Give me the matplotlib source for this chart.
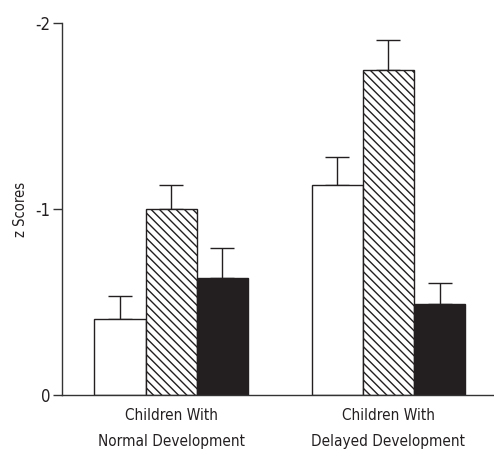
import matplotlib
matplotlib.use("Agg")
import matplotlib.pyplot as plt
import numpy as np

plt.rcParams['font.family'] = ['DejaVu Sans']
plt.rcParams['font.stretch'] = 'condensed'
plt.rcParams['hatch.linewidth'] = 1.0

groups = ["Children With\nNormal Development", "Children With\nDelayed Development"]
series_a = [-0.41, -1.13]   # open bars
series_b = [-1.00, -1.75]   # hatched bars
series_c = [-0.63, -0.49]   # solid bars
err_a = [0.12, 0.15]
err_b = [0.13, 0.16]
err_c = [0.16, 0.11]
yticks = [0, -1, -2]

fig = plt.figure(figsize=(4.94, 4.53), dpi=100)
ax = fig.add_axes([0.1255, 0.128, 0.872, 0.821])

x = np.arange(len(groups))
w = 0.235
styles = [
    dict(facecolor='white', hatch=None),
    dict(facecolor='white', hatch='\\\\\\\\'),
    dict(facecolor='#231f20', hatch=None),
]
for i, (vals, errs, st) in enumerate(zip([series_a, series_b, series_c],
                                         [err_a, err_b, err_c], styles)):
    pos = x + (i - 1) * w
    ax.bar(pos, vals, width=w, facecolor=st['facecolor'], hatch=st['hatch'],
           edgecolor='#231f20', linewidth=1.0, zorder=2)
    ax.errorbar(pos, vals, yerr=[np.array(errs), np.zeros(len(errs))],
                fmt='none', ecolor='#231f20', elinewidth=1.0, capsize=8.3,
                capthick=1.0, zorder=1)

ax.set_ylim(0, -2)
ax.set_xlim(-0.502, 1.48)
ax.set_yticks(yticks)
ax.set_yticklabels([str(t) for t in yticks])
ax.set_xticks(x)
ax.set_xticklabels(groups, fontsize=11, linespacing=1.95, color='#231f20')
ax.tick_params(axis='x', length=0, pad=9)
ax.tick_params(axis='y', length=6.5, width=1.0, color='#333333', labelsize=12,
               pad=2, labelcolor='#231f20')
ax.set_ylabel("z Scores", fontsize=10.5, labelpad=5, color='#231f20')

for s in ['top', 'right']:
    ax.spines[s].set_visible(False)
for s in ['left', 'bottom']:
    ax.spines[s].set_color('#333333')
    ax.spines[s].set_linewidth(1.0)

fig.savefig("out.png", dpi=100)
